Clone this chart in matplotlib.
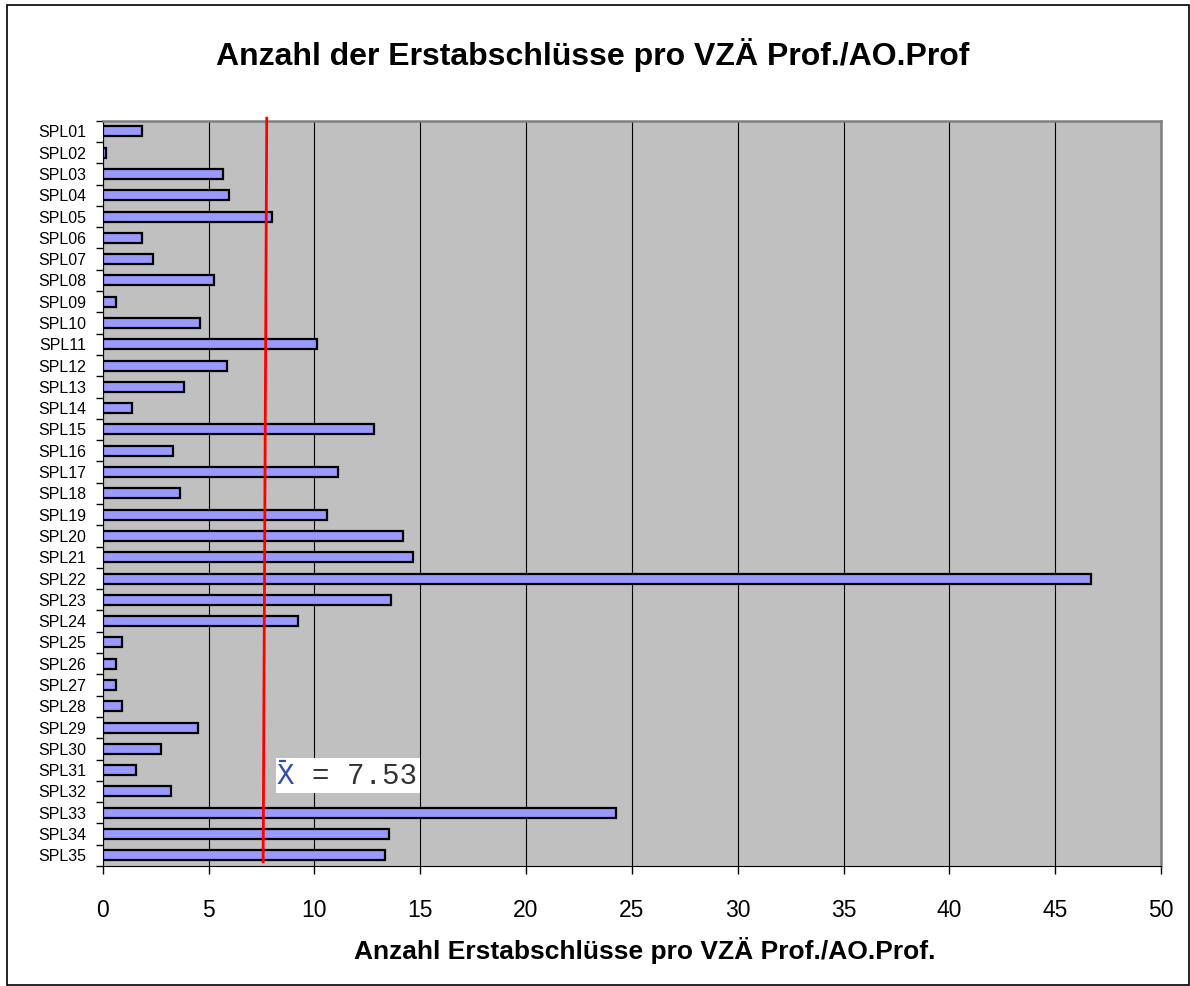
import numpy as np
import matplotlib
matplotlib.use('Agg')
import matplotlib.pyplot as plt
import matplotlib.transforms as mtrans
from matplotlib.patches import Rectangle

plt.rcParams['font.family'] = ['Liberation Sans', 'DejaVu Sans']

# Studiengänge und Werte (Erstabschlüsse pro VZÄ Prof./AO.Prof.)
labels = ['SPL%02d' % i for i in range(1, 36)]
values = [1.84, 0.17, 5.70, 5.98, 8.01, 1.84, 2.39, 5.24, 0.64, 4.61,
          10.14, 5.89, 3.86, 1.37, 12.80, 3.32, 11.13, 3.67, 10.60, 14.18,
          14.64, 46.70, 13.62, 9.21, 0.91, 0.64, 0.64, 0.91, 4.52, 2.77,
          1.57, 3.23, 24.23, 13.54, 13.35]
mean_val = 7.53
xticks = np.arange(0, 51, 5)

W, H = 1190, 986
fig = plt.figure(figsize=(W / 100, H / 100), dpi=100)
ax = fig.add_axes([102.7 / W, 1 - 866 / H, (1161 - 102.7) / W, (866 - 120.7) / H])
ax.set_facecolor('#C0C0C0')

y = np.arange(len(labels))
ax.barh(y, values, height=0.47, color='#9999FF', edgecolor='black', linewidth=1.6, zorder=3)

ax.set_xlim(0, 50)
ax.set_ylim(len(labels) - 0.5, -0.5)
ax.set_xticks(xticks)
ax.set_xticklabels([str(v) for v in xticks], fontsize=16.5)
ax.tick_params(axis='x', length=6, width=1, pad=18, direction='out')

# Excel-Stil: Striche zwischen den Kategorien, Beschriftung in der Mitte
ax.set_yticks(np.arange(len(labels) + 1) - 0.5)
ax.set_yticklabels([])
ax.set_yticks(y, minor=True)
ax.set_yticklabels(labels, minor=True, fontsize=11.5)
ax.tick_params(axis='y', which='major', length=5, width=1)
ax.tick_params(axis='y', which='minor', length=0, pad=12)

ax.grid(axis='x', color='black', linewidth=0.8, zorder=1)
ax.set_axisbelow(True)
for s in ['left', 'bottom']:
    ax.spines[s].set_color('black')
for s in ['top', 'right']:
    ax.spines[s].set_color('#808080')
    ax.spines[s].set_linewidth(1.8)

# Mittelwertlinie (leicht schräg wie im Original)
ax.plot([mean_val + 0.22, mean_val + 0.05], [-0.62, len(labels) - 0.7],
        color='red', linewidth=2, zorder=4, clip_on=False)

# Beschriftung des Mittelwerts: weißer Kasten, blaues X mit Strich, Rest grau
lx, ly = 8.22, 30.63
ax.add_patch(Rectangle((lx - 0.03, 29.42), 6.8, 1.63, facecolor='white',
                       edgecolor='none', zorder=5))
fs = 21
ax.text(lx, ly, 'X', family='Liberation Mono', fontsize=fs,
        color='#3050A8', va='baseline', ha='left', zorder=6)
ax.annotate('= %.2f' % mean_val, (lx, ly), xytext=(1.2 * fs, 0), textcoords='offset points',
            family='Liberation Mono', fontsize=fs, color='#333333',
            va='baseline', ha='left', zorder=6)
bar_tr = ax.transData + mtrans.ScaledTranslation(0, 16 / 72, fig.dpi_scale_trans)
ax.plot([lx + 0.09, lx + 0.45], [ly, ly], color='#3050A8', linewidth=1.6,
        transform=bar_tr, zorder=6, solid_capstyle='butt')

ax.set_xlabel('Anzahl Erstabschlüsse pro VZÄ Prof./AO.Prof.', fontsize=19,
              fontweight='bold', labelpad=11)
ax.xaxis.set_label_coords((645 - 102.7) / (1161 - 102.7), -0.095)
fig.text(593 / W, 1 - 55 / H, 'Anzahl der Erstabschlüsse pro VZÄ Prof./AO.Prof',
         ha='center', va='center', fontsize=23, fontweight='bold')

fig.patches.append(Rectangle((7 / W, 1 / H), (W - 8) / W, (H - 6) / H,
                             transform=fig.transFigure, fill=False,
                             edgecolor='black', linewidth=1.2))

fig.savefig('out.png', dpi=100)
